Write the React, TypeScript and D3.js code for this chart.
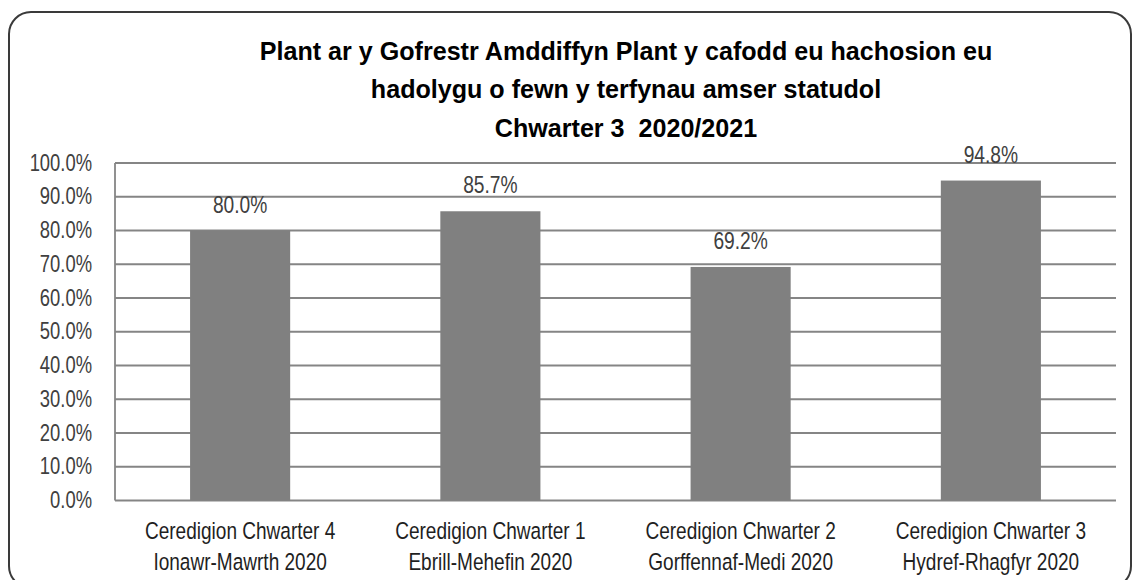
import React from "react";
import * as d3 from "d3";

const titleLines = [
  "Plant ar y Gofrestr Amddiffyn Plant y cafodd eu hachosion eu",
  "hadolygu o fewn y terfynau amser statudol",
  "Chwarter 3\u00a0\u00a02020/2021",
];
const categories = [
  ["Ceredigion Chwarter 4", "Ionawr-Mawrth 2020"],
  ["Ceredigion Chwarter 1", "Ebrill-Mehefin 2020"],
  ["Ceredigion Chwarter 2", "Gorffennaf-Medi 2020"],
  ["Ceredigion Chwarter 3", "Hydref-Rhagfyr 2020"],
];
const values = [80.0, 85.7, 69.2, 94.8];
const yTicks = [0, 10, 20, 30, 40, 50, 60, 70, 80, 90, 100];

const W = 1134;
const H = 580;
const plot = { left: 115, right: 1116, top: 163, bottom: 500.5 };
const FONT = "'Liberation Sans', Arial, sans-serif";

export default function App() {
  const x = d3
    .scaleBand<number>()
    .domain(d3.range(categories.length))
    .range([plot.left, plot.right])
    .paddingInner(0.6)
    .paddingOuter(0.3);
  const y = d3.scaleLinear().domain([0, 100]).range([plot.bottom, plot.top]);
  const fmt = (v: number) => v.toFixed(1) + "%";

  return (
    <svg
      width={W}
      height={H}
      style={{ position: "absolute", left: 0, top: 0, background: "#fff" }}
      fontFamily={FONT}
    >
      <rect x={0} y={0} width={W} height={H} fill="#fff" />
      <rect
        x={9}
        y={12}
        width={1122}
        height={576}
        rx={22}
        ry={22}
        fill="#fff"
        stroke="#3a3a3a"
        strokeWidth={2}
      />
      {titleLines.map((t, i) => (
        <text
          key={i}
          transform={`translate(626,${[60, 98, 137][i]}) scale(0.94,1)`}
          textAnchor="middle"
          fontSize={26.7}
          fontWeight="bold"
          fill="#000"
        >
          {t}
        </text>
      ))}
      {yTicks.map((t) => (
        <line
          key={"g" + t}
          x1={plot.left}
          x2={plot.right}
          y1={y(t)}
          y2={y(t)}
          stroke="#858585"
          strokeWidth={1.8}
        />
      ))}
      <line
        x1={plot.left}
        x2={plot.left}
        y1={plot.top}
        y2={plot.bottom}
        stroke="#858585"
        strokeWidth={1.8}
      />
      {yTicks.map((t) => (
        <text
          key={"t" + t}
          transform={`translate(92,${y(t) + 7.5}) scale(0.8,1)`}
          textAnchor="end"
          fontSize={23}
          fill="#404040"
        >
          {fmt(t)}
        </text>
      ))}
      {values.map((v, i) => (
        <rect
          key={"b" + i}
          x={x(i)}
          y={y(v)}
          width={x.bandwidth()}
          height={y(0) - y(v)}
          fill="#808080"
        />
      ))}
      {values.map((v, i) => (
        <text
          key={"l" + i}
          transform={`translate(${(x(i) as number) + x.bandwidth() / 2},${y(v) - 18}) scale(0.8,1)`}
          textAnchor="middle"
          fontSize={24}
          fill="#404040"
        >
          {fmt(v)}
        </text>
      ))}
      {categories.map((c, i) =>
        c.map((line, j) => (
          <text
            key={"c" + i + j}
            transform={`translate(${(x(i) as number) + x.bandwidth() / 2},${[539, 570][j]}) scale(0.81,1)`}
            textAnchor="middle"
            fontSize={23.5}
            fill="#1f1f1f"
          >
            {line}
          </text>
        ))
      )}
    </svg>
  );
}
